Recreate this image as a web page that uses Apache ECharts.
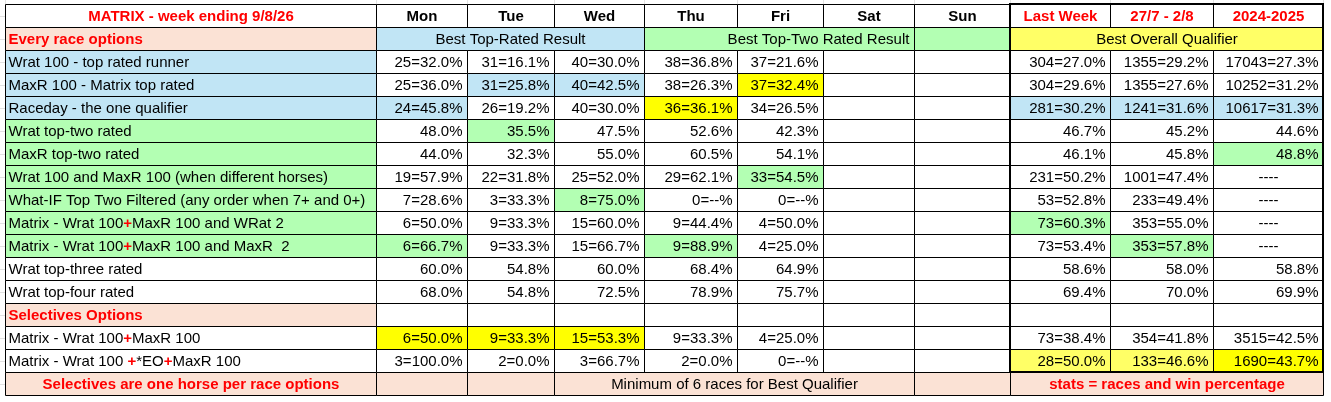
<!DOCTYPE html>
<html lang="en">
<head>
    <meta charset="UTF-8">
    <title>Matrix week ending 9/8/26</title>
    <style>
        html, body {margin: 0; padding: 0; background: #fff;}
        #sheet {width: 1331px; height: 402px;}
    </style>
</head>
<body>
    <div id="sheet"></div>

    <script src="https://cdn.jsdelivr.net/npm/echarts@6/dist/echarts.min.js"></script>
    <script>

// 표 데이터
const title = 'MATRIX - week ending 9/8/26';
const days = ['Mon', 'Tue', 'Wed', 'Thu', 'Fri', 'Sat', 'Sun'];
const periods = ['Last Week', '27/7 - 2/8', '2024-2025'];

const everyRaceOptions = [
    'Wrat 100 - top rated runner',
    'MaxR 100 - Matrix top rated',
    'Raceday - the one qualifier',
    'Wrat top-two rated',
    'MaxR top-two rated',
    'Wrat 100 and MaxR 100 (when different horses)',
    'What-IF Top Two Filtered (any order when 7+ and 0+)',
    'Matrix - Wrat 100+MaxR 100 and WRat 2',
    'Matrix - Wrat 100+MaxR 100 and MaxR  2',
    'Wrat top-three rated',
    'Wrat top-four rated'
];
const selectiveOptions = [
    'Matrix - Wrat 100+MaxR 100',
    'Matrix - Wrat 100 +*EO+MaxR 100'
];

// 요일/기간별 값 (everyRaceOptions 11개 + selectiveOptions 2개 순서)
const mon = ['25=32.0%', '25=36.0%', '24=45.8%', '48.0%', '44.0%', '19=57.9%', '7=28.6%', '6=50.0%', '6=66.7%', '60.0%', '68.0%', '6=50.0%', '3=100.0%'];
const tue = ['31=16.1%', '31=25.8%', '26=19.2%', '35.5%', '32.3%', '22=31.8%', '3=33.3%', '9=33.3%', '9=33.3%', '54.8%', '54.8%', '9=33.3%', '2=0.0%'];
const wed = ['40=30.0%', '40=42.5%', '40=30.0%', '47.5%', '55.0%', '25=52.0%', '8=75.0%', '15=60.0%', '15=66.7%', '60.0%', '72.5%', '15=53.3%', '3=66.7%'];
const thu = ['38=36.8%', '38=26.3%', '36=36.1%', '52.6%', '60.5%', '29=62.1%', '0=--%', '9=44.4%', '9=88.9%', '68.4%', '78.9%', '9=33.3%', '2=0.0%'];
const fri = ['37=21.6%', '37=32.4%', '34=26.5%', '42.3%', '54.1%', '33=54.5%', '0=--%', '4=50.0%', '4=25.0%', '64.9%', '75.7%', '4=25.0%', '0=--%'];
const sat = ['', '', '', '', '', '', '', '', '', '', '', '', ''];
const sun = ['', '', '', '', '', '', '', '', '', '', '', '', ''];
const lastWeek = ['304=27.0%', '304=29.6%', '281=30.2%', '46.7%', '46.1%', '231=50.2%', '53=52.8%', '73=60.3%', '73=53.4%', '58.6%', '69.4%', '73=38.4%', '28=50.0%'];
const recent = ['1355=29.2%', '1355=27.6%', '1241=31.6%', '45.2%', '45.8%', '1001=47.4%', '233=49.4%', '353=55.0%', '353=57.8%', '58.0%', '70.0%', '354=41.8%', '133=46.6%'];
const season = ['17043=27.3%', '10252=31.2%', '10617=31.3%', '44.6%', '48.8%', '----', '----', '----', '----', '58.8%', '69.9%', '3515=42.5%', '1690=43.7%'];

const sectionTitles = ['Every race options', 'Selectives Options'];
const bandTitles = ['Best Top-Rated Result', 'Best Top-Two Rated Result', 'Best Overall Qualifier'];
const footerNotes = ['Selectives are one horse per race options', 'Minimum of 6 races for Best Qualifier', 'stats = races and win percentage'];


// 레이아웃 / 스타일
const colWidths = [371, 91, 87, 90, 93, 86, 91, 96, 100, 103, 110];
const rowCount = 17;
const FONT = '"Liberation Sans", Arial, sans-serif';
const FS = 15;
const C = {
    blue: '#C1E5F5', green: '#B3FFB3', yellow: '#FFFF00', paleYellow: '#FFFF66',
    peach: '#FBE2D5', white: '#FFFFFF', red: '#FF0000', ink: '#000000'
};
// 라벨 칸 배경 (everyRace 11 + selective 2)
const labelFills = ['blue', 'blue', 'blue', 'green', 'green', 'green', 'green', 'green', 'green', 'white', 'white', 'white', 'white'];
// 강조 칸 "행:열" (열 0=Mon ... 9=2024-2025)
const highlights = {
    '1:1': 'blue', '1:2': 'blue', '1:4': 'yellow',
    '2:0': 'blue', '2:3': 'yellow', '2:7': 'blue', '2:8': 'blue', '2:9': 'blue',
    '3:1': 'green', '4:9': 'green', '5:4': 'green', '6:2': 'green', '7:7': 'green',
    '8:0': 'green', '8:3': 'green', '8:8': 'green',
    '11:0': 'yellow', '11:1': 'yellow', '11:2': 'yellow',
    '12:7': 'paleYellow', '12:8': 'paleYellow', '12:9': 'yellow'
};

const edges = [0];
colWidths.forEach(w => edges.push(edges[edges.length - 1] + w));

const valueCols = [mon, tue, wed, thu, fri, sat, sun, lastWeek, recent, season];

// 셀 목록 만들기
const cells = [];
function addCell(c0, c1, r0, r1, opt) {
    cells.push(Object.assign({c0: c0, c1: c1, r0: r0, r1: r1, text: '', fill: 'white', align: 'center',
        color: C.ink, bold: false, lineWidth: 1, dx: 0}, opt));
}

// 헤더
addCell(0, 1, 0, 0, {text: title, color: C.red, bold: true});
days.forEach((d, i) => addCell(1 + i, 2 + i, 0, 0, {text: d, bold: true}));
periods.forEach((p, i) => addCell(8 + i, 9 + i, 0, 0, {text: p, color: C.red, bold: true}));

// Every race options 구간
addCell(0, 1, 1, 1, {text: sectionTitles[0], fill: 'peach', color: C.red, bold: true, align: 'left'});
addCell(1, 4, 1, 1, {text: bandTitles[0], fill: 'blue'});
addCell(4, 8, 1, 1, {text: bandTitles[1], fill: 'green', dx: -9});
addCell(7, 8, 1, 1, {fill: null});
addCell(8, 11, 1, 1, {text: bandTitles[2], fill: 'paleYellow'});

function addDataRow(row, idx, label) {
    addCell(0, 1, row, row, {text: label, fill: labelFills[idx], align: 'left', plusRed: label.indexOf('Matrix') === 0});
    valueCols.forEach((col, j) => {
        const v = col[idx];
        addCell(1 + j, 2 + j, row, row, {
            text: v,
            fill: highlights[idx + ':' + j] || 'white',
            align: v === '----' ? 'center' : 'right'
        });
    });
}

everyRaceOptions.forEach((label, i) => addDataRow(2 + i, i, label));

// Selectives Options 구간
addCell(0, 1, 13, 13, {text: sectionTitles[1], fill: 'peach', color: C.red, bold: true, align: 'left'});
for (let j = 1; j < 11; j++) addCell(j, j + 1, 13, 13, {});
selectiveOptions.forEach((label, i) => addDataRow(14 + i, everyRaceOptions.length + i, label));

// 하단 메모
addCell(0, 1, 16, 16, {text: footerNotes[0], fill: 'peach', color: C.red, bold: true});
addCell(1, 2, 16, 16, {fill: 'peach'});
addCell(2, 3, 16, 16, {fill: 'peach'});
addCell(3, 7, 16, 16, {text: footerNotes[1], fill: 'peach'});
addCell(7, 8, 16, 16, {fill: 'peach'});
addCell(8, 11, 16, 16, {text: footerNotes[2], fill: 'peach', color: C.red, bold: true});

// 오른쪽 굵은 테두리
addCell(8, 11, 0, 15, {fill: null, lineWidth: 2});

const cellData = cells.map(c => [edges[c.c0], c.r0, edges[c.c1], c.r1]);

// 시트 바깥 연한 격자선
const sheetLines = [];
edges.forEach(x => { sheetLines.push([x, -1, x, -0.5]); sheetLines.push([x, 16.5, x, 17]); });
for (let r = 0; r <= rowCount; r++) sheetLines.push([-10, r - 0.5, 0, r - 0.5]);


function renderCell(params, api) {
    const cell = cells[params.dataIndex];
    const h = api.size([0, 1])[1];
    const tl = api.coord([api.value(0), api.value(1)]);
    const br = api.coord([api.value(2), api.value(3)]);
    const off = cell.lineWidth === 2 ? 0 : 0.5;
    const x0 = Math.round(tl[0]) + off;
    const y0 = Math.round(tl[1] - h / 2) + off;
    const x1 = Math.round(br[0]) + off;
    const y1 = Math.round(br[1] + h / 2) + off;

    const children = [{
        type: 'rect',
        shape: {x: x0, y: y0, width: x1 - x0, height: y1 - y0},
        style: {fill: cell.fill ? C[cell.fill] : 'none', stroke: C.ink, lineWidth: cell.lineWidth}
    }];

    if (cell.text) {
        let tx = (x0 + x1) / 2 + cell.dx;
        if (cell.align === 'left') tx = x0 + 3;
        if (cell.align === 'right') tx = x1 - 5;
        let text = cell.text;
        if (cell.plusRed) text = text.split('+').map(s => '{a|' + s + '}').join('{p|+}');
        children.push({
            type: 'text',
            x: tx,
            y: (y0 + y1) / 2 + 1,
            style: {
                text: text,
                fill: cell.color,
                fontSize: FS,
                fontFamily: FONT,
                fontWeight: cell.bold ? 'bold' : 'normal',
                align: cell.align,
                verticalAlign: 'middle',
                rich: {
                    a: {fill: C.ink, fontSize: FS, fontFamily: FONT},
                    p: {fill: C.red, fontSize: FS, fontFamily: FONT, fontWeight: 'bold'}
                }
            }
        });
    }
    return {type: 'group', children: children};
}

function renderSheetLine(params, api) {
    const a = api.coord([api.value(0), api.value(1)]);
    const b = api.coord([api.value(2), api.value(3)]);
    return {
        type: 'line',
        shape: {x1: Math.round(a[0]) + 0.5, y1: Math.round(a[1]) + 0.5, x2: Math.round(b[0]) + 0.5, y2: Math.round(b[1]) + 0.5},
        style: {stroke: '#E2E2E2', lineWidth: 1}
    };
}

const rowNames = [];
for (let r = 0; r < rowCount; r++) rowNames.push(String(r));

const chart = echarts.init(document.getElementById('sheet'), null, {renderer: 'canvas'});
chart.setOption({
    animation: false,
    backgroundColor: '#fff',
    grid: {left: 5, top: 4, width: edges[edges.length - 1], height: rowCount * 23},
    xAxis: {type: 'value', min: 0, max: edges[edges.length - 1], show: false},
    yAxis: {type: 'category', data: rowNames, inverse: true, show: false},
    series: [
        {type: 'custom', renderItem: renderSheetLine, data: sheetLines, silent: true, z: 1},
        {type: 'custom', renderItem: renderCell, data: cellData, silent: true, z: 2}
    ]
});

    </script>
</body>
</html>
